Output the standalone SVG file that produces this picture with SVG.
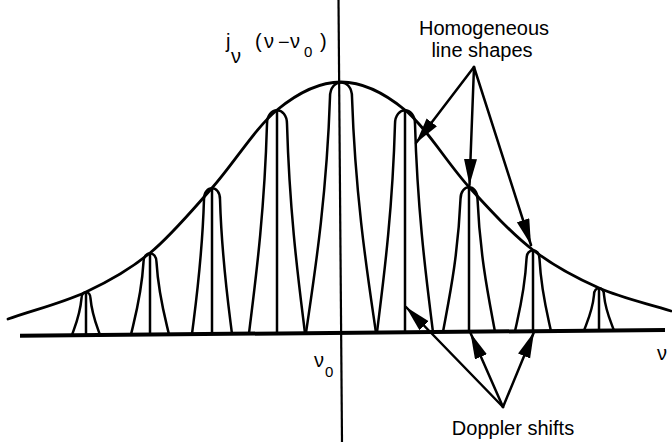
<svg xmlns="http://www.w3.org/2000/svg" width="672" height="448" viewBox="0 0 672 448">
<defs>
<style>
.ln{fill:none;stroke:#000;stroke-width:2.5;stroke-linejoin:round}
.env{fill:none;stroke:#000;stroke-width:2.8;stroke-linecap:round}
.ax{fill:none;stroke:#000;stroke-width:2.2}
.base{fill:none;stroke:#000;stroke-width:4}
.arr{fill:none;stroke:#000;stroke-width:2.5;stroke-linecap:round}
text{font-family:"Liberation Sans",Arial,Helvetica,sans-serif;font-size:20px;fill:#000}
.sub{font-size:15px}
</style>
<marker id="ah" markerUnits="userSpaceOnUse" markerWidth="28" markerHeight="14" refX="26" refY="6.5" orient="auto">
<path d="M0,0 L26,6.5 L0,13 Z" fill="#000"/>
</marker>
</defs>
<rect width="672" height="448" fill="#fff"/>
<g id="axes">
<line class="base" x1="20" y1="335.7" x2="665" y2="330"/>
<line class="ax" x1="338.5" y1="0" x2="342" y2="442"/>
</g>
<g id="envelope">
<path class="env" d="M8,319 C34,310 62.3,303 86,292 C109.7,281 129,270.3 150,253 C171,235.7 190.8,211.8 212,188 C233.2,164.2 255.5,127.7 277,110 C298.5,92.3 319.7,82 341,82 C362.3,82 383.7,92.5 405,110 C426.3,127.5 447.7,163.7 469,187 C490.3,210.3 511.3,233.2 533,250 C554.7,266.8 576,277.8 599,288 C622,298.2 647,303.3 671,311"/>
</g>
<g id="peak1">
<path class="ln" d="M72,335.1 C74.85,326.5 80.07,314.9 81.5,298.3 C81.5,290.1 90.5,290.1 90.5,298.3 C91.93,314.9 97.15,326.5 100,335.1"/>
<line class="ln" x1="86" y1="292" x2="86" y2="335.1"/>
</g>
<g id="peak2">
<path class="ln" d="M131,334.6 C134.75,318.3 141.6,294.7 143.5,262.1 C143.5,250.3 156.5,250.3 156.5,262.1 C158.4,294.7 165.25,318.3 169,334.6"/>
<line class="ln" x1="150" y1="253" x2="150" y2="334.6"/>
</g>
<g id="peak3">
<path class="ln" d="M192,334 C195.6,304.8 202.2,259.9 204,199.2 C204,184.6 220,184.6 220,199.2 C221.8,259.9 228.4,304.8 232,334"/>
<line class="ln" x1="212" y1="188" x2="212" y2="334"/>
</g>
<g id="peak4">
<path class="ln" d="M249,333.4 C254.4,288.7 264.3,218.2 267,124 C267,105.8 287,105.8 287,124 C289.7,218.2 299.6,288.7 305,333.4"/>
<line class="ln" x1="277" y1="110" x2="277" y2="333.4"/>
</g>
<g id="peak5">
<path class="ln" d="M306,332.9 C313.2,282.7 326.4,203.2 330,97 C330,77.5 352,77.5 352,97 C355.6,203.2 368.8,282.7 376,332.9"/>
</g>
<g id="peak6">
<path class="ln" d="M377,332.3 C382.4,287.8 392.3,217.7 395,124 C395,105.8 415,105.8 415,124 C417.7,217.7 427.6,287.8 433,332.3"/>
<line class="ln" x1="405" y1="110" x2="405" y2="332.3"/>
</g>
<g id="peak7">
<path class="ln" d="M443,331.8 C448.25,302.8 457.9,258.8 460.5,199 C460.5,183.4 477.5,183.4 477.5,199 C480.1,258.8 489.75,302.8 495,331.8"/>
<line class="ln" x1="469" y1="187" x2="469" y2="331.8"/>
</g>
<g id="peak8">
<path class="ln" d="M515,331.2 C518.45,315 524.8,291.5 526.5,259 C526.5,247.3 539.5,247.3 539.5,259 C541.2,291.5 547.55,315 551,331.2"/>
<line class="ln" x1="533" y1="250" x2="533" y2="331.2"/>
</g>
<g id="peak9">
<path class="ln" d="M584,330.6 C587,322.1 592.5,311 594,295 C594,285.9 604,285.9 604,295 C605.5,311 611,322.1 614,330.6"/>
<line class="ln" x1="599" y1="288" x2="599" y2="330.6"/>
</g>
<g id="connectors">
<line class="arr" x1="474" y1="67" x2="416" y2="143" marker-end="url(#ah)"/>
<line class="arr" x1="474" y1="67" x2="469.5" y2="185" marker-end="url(#ah)"/>
<line class="arr" x1="474" y1="67" x2="531" y2="245" marker-end="url(#ah)"/>
<line class="arr" x1="503" y1="407" x2="406" y2="307" marker-end="url(#ah)"/>
<line class="arr" x1="503" y1="407" x2="470.5" y2="333" marker-end="url(#ah)"/>
<line class="arr" x1="503" y1="407" x2="534" y2="332" marker-end="url(#ah)"/>
</g>
<g id="label-homogeneous">
<text x="484" y="35" text-anchor="middle">Homogeneous</text>
<text x="482" y="57" text-anchor="middle">line shapes</text>
</g>
<g id="label-doppler">
<text x="513" y="435" text-anchor="middle">Doppler shifts</text>
</g>
<g id="label-yaxis">
<text><tspan x="226" y="48">j</tspan><tspan x="231" y="63">ν</tspan><tspan x="255" y="48">(</tspan><tspan x="264" y="48">ν</tspan><tspan x="278" y="49">−</tspan><tspan x="290" y="48">ν</tspan><tspan class="sub" x="304" y="57">0</tspan><tspan x="320" y="48">)</tspan></text>
</g>
<g id="label-nu0">
<text><tspan x="314" y="367">ν</tspan><tspan class="sub" x="325" y="377">0</tspan></text>
</g>
<g id="label-nu">
<text x="657" y="360">ν</text>
</g>
</svg>
